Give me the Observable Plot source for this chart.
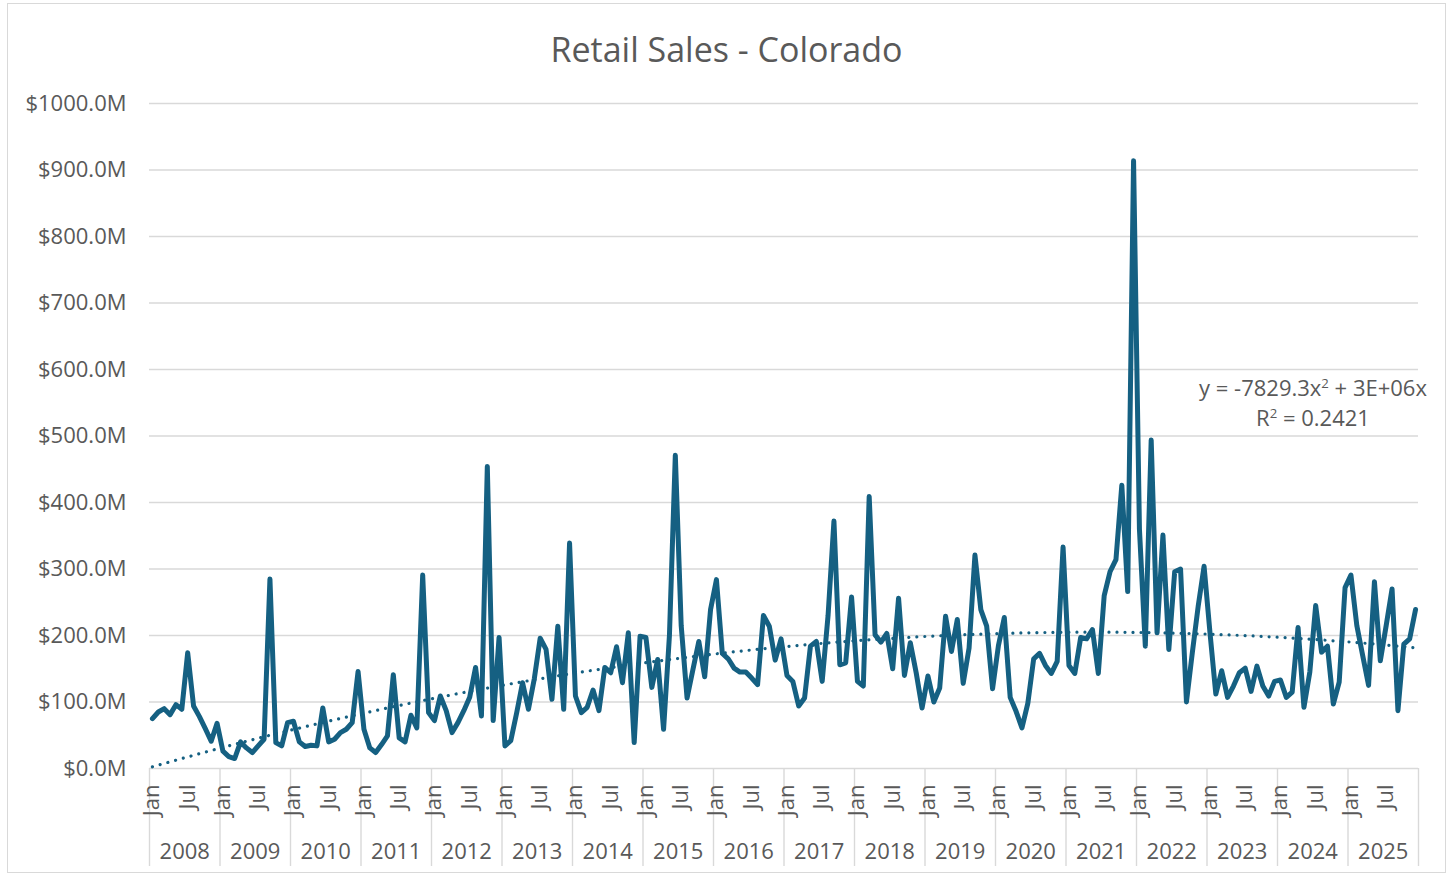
<!DOCTYPE html>
<html><head><meta charset="utf-8">
<script src="https://cdn.jsdelivr.net/npm/d3@7"></script>
<script src="https://cdn.jsdelivr.net/npm/@observablehq/plot@0.6"></script>
<style>
body{margin:0;background:#fff;}
#wrap{position:relative;width:1453px;height:877px;overflow:hidden;font-family:"Open Sans",sans-serif;}
#frame{position:absolute;left:7px;top:3px;width:1439px;height:870px;border:1px solid #d9d9d9;box-sizing:border-box;}
#title{position:absolute;left:0;width:1453px;top:26px;text-align:center;font-size:34px;color:#595959;line-height:46px;white-space:nowrap;}
#chart{position:absolute;left:0;top:0;}
#eq{position:absolute;left:1163px;width:300px;top:372px;text-align:center;font-size:22px;line-height:30px;color:#595959;white-space:nowrap;}
#eq sup{font-size:0.6em;line-height:0;vertical-align:0.6em;}
</style></head>
<body>
<div id="wrap">
  <div id="frame"></div>
  <div id="chart"></div>
  <div id="title">Retail Sales - Colorado</div>
  <div id="eq">y = -7829.3x<sup>2</sup> + 3E+06x<br>R<sup>2</sup> = 0.2421</div>
</div>
<script>
// Monthly retail sales, $M (Jan..Dec)
const years = [2008,2009,2010,2011,2012,2013,2014,2015,2016,2017,2018,2019,2020,2021,2022,2023,2024,2025];
const monthLabels = ["Jan","Jul"];
const yTicks = [0,100,200,300,400,500,600,700,800,900,1000];
const s2008 = [75, 85, 90, 81, 96, 89, 174, 94, 78, 60, 41, 68];
const s2009 = [26, 18, 15, 40, 31, 24, 34, 44, 285, 39, 34, 69];
const s2010 = [71, 40, 33, 35, 34, 91, 40, 44, 54, 59, 69, 146];
const s2011 = [59, 31, 24, 36, 49, 141, 46, 40, 80, 61, 291, 84];
const s2012 = [72, 109, 87, 54, 69, 87, 107, 152, 79, 454, 72, 197];
const s2013 = [34, 42, 84, 129, 89, 135, 196, 179, 104, 214, 89, 339];
const s2014 = [109, 84, 92, 118, 87, 152, 144, 183, 129, 204, 39, 199];
const s2015 = [197, 122, 164, 59, 200, 471, 215, 106, 149, 191, 138, 239];
const s2016 = [284, 173, 165, 151, 145, 145, 136, 126, 230, 214, 163, 195];
const s2017 = [140, 131, 94, 106, 184, 191, 131, 230, 372, 156, 159, 258];
const s2018 = [131, 124, 409, 201, 190, 203, 150, 256, 140, 189, 144, 91];
const s2019 = [139, 100, 121, 229, 176, 224, 128, 181, 321, 239, 214, 120];
const s2020 = [185, 227, 107, 86, 61, 98, 165, 173, 155, 143, 161, 333];
const s2021 = [155, 143, 197, 195, 209, 143, 260, 296, 314, 426, 266, 914];
const s2022 = [360, 184, 494, 204, 351, 179, 296, 300, 100, 174, 244, 304];
const s2023 = [205, 112, 147, 107, 124, 144, 151, 116, 154, 124, 109, 131];
const s2024 = [133, 107, 115, 212, 92, 145, 245, 175, 184, 97, 130, 272];
const s2025 = [291, 215, 170, 125, 281, 162, 215, 270, 87, 187, 195, 239];

const series = [s2008,s2009,s2010,s2011,s2012,s2013,s2014,s2015,s2016,s2017,s2018,s2019,s2020,s2021,s2022,s2023,s2024,s2025];
const data = series.flatMap((arr, k) => arr.map((v, m) => ({i: k*12 + m, year: years[k], month: m, value: v})));
const N = years.length * 12;

// Polynomial (order 2, zero intercept) trendline, least squares on x = 1..N
let s4=0,s3=0,s2=0,sxy2=0,sxy=0;
data.forEach(d => { const x = d.i + 1; s4 += x**4; s3 += x**3; s2 += x*x; sxy2 += x*x*d.value; sxy += x*d.value; });
const det = s4*s2 - s3*s3;
const qa = (sxy2*s2 - s3*sxy)/det;
const qb = (s4*sxy - s3*sxy2)/det;
const trend = data.map(d => ({i: d.i, t: qa*(d.i+1)**2 + qb*(d.i+1)}));

const monthTicks = years.flatMap((y, k) => [k*12 + 0.5, k*12 + 6.5]);
const yearBounds = d3.range(0, N + 1, 12);
const yearCenters = years.map((y, k) => k*12 + 6);

const color = "#156082";
const chart = Plot.plot({
  width: 1453, height: 877,
  marginLeft: 149, marginRight: 35, marginTop: 103, marginBottom: 109,
  x: {domain: [0, N]},
  y: {domain: [0, 1000]},
  style: {fontFamily: "'Open Sans', sans-serif", fontSize: "22px", color: "#595959", background: "transparent", overflow: "visible"},
  marks: [
    Plot.gridY({ticks: yTicks, stroke: "#d9d9d9", strokeOpacity: 1, strokeWidth: 1.4}),
    Plot.axisY({ticks: yTicks, tickSize: 0, tickPadding: 23, tickFormat: d => `$${d.toFixed(1)}M`, label: null, fontSize: 22}),
    Plot.axisX({ticks: yearBounds, tickSize: 98, tickFormat: () => "", stroke: "#d9d9d9", strokeWidth: 1.4, label: null}),
    Plot.axisX({ticks: monthTicks, tickSize: 0, tickPadding: 16, tickRotate: -90,
      tickFormat: d => monthLabels[Math.round(d - 0.5) % 12 === 0 ? 0 : 1], label: null, fontSize: 22}),
    Plot.axisX({ticks: yearCenters, tickSize: 0, tickPadding: 75, tickFormat: d => String(years[Math.round((d - 6)/12)]), label: null, fontSize: 22}),
    Plot.line(data, {x: d => d.i + 0.5, y: "value", stroke: color, strokeWidth: 5, strokeLinejoin: "round", strokeLinecap: "round"}),
    Plot.line(trend, {x: d => d.i + 0.5, y: "t", stroke: color, strokeWidth: 3.2, strokeDasharray: "0.01 8", strokeLinecap: "round"})
  ]
});
document.getElementById("chart").appendChild(chart);
</script>
</body></html>
